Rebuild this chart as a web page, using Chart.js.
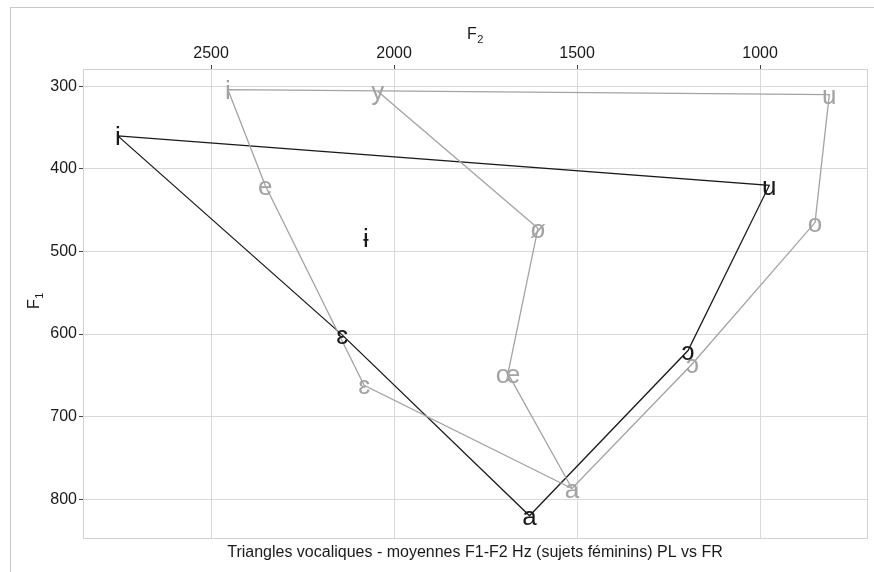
<!DOCTYPE html>
<html lang="fr">
<head>
<meta charset="utf-8">
<title>Triangles vocaliques F1-F2</title>
<script src="https://cdn.jsdelivr.net/npm/chart.js@4/dist/chart.umd.min.js"></script>
<style>
  html, body { margin: 0; padding: 0; background: #ffffff; }
  #wrap { width: 874px; height: 572px; position: relative; }
</style>
</head>
<body>
<div id="wrap"><canvas id="chart"></canvas></div>
<script>
// Mean formant values (Hz), female speakers.
// Polish (PL) vowels
const plVowels = ['i', 'u', 'ɔ', 'a', 'ɛ', 'ɨ'];
const plF2 = [2755, 975, 1197, 1630, 2142, 2077];
const plF1 = [360, 420, 620, 820, 601, 484];
// Polish outline, in drawing order
const plOutline = ['i', 'u', 'ɔ', 'a', 'ɛ', 'i'];

// French (FR) vowels
const frVowels = ['i', 'y', 'u', 'o', 'ɔ', 'a', 'œ', 'ø', 'e', 'ɛ'];
const frF2 = [2454, 2045, 811, 850, 1185, 1514, 1689, 1607, 2352, 2082];
const frF1 = [304, 306, 310, 465, 636, 787, 648, 472, 420, 662];
// French outline and the rounded front series
const frOutline = ['i', 'e', 'ɛ', 'a', 'ɔ', 'o', 'u', 'i'];
const frRounded = ['y', 'ø', 'œ', 'a'];

// Axis ticks
const f2Ticks = [2500, 2000, 1500, 1000];
const f1Ticks = [300, 400, 500, 600, 700, 800];

const FONT = '"Liberation Sans", Arial, Helvetica, sans-serif';
const DARK = '#1a1a1a';
const GREY = '#a3a3a3';

function pointsFor(vowels, f2, f1, order) {
  return order.map(v => {
    const k = vowels.indexOf(v);
    return { x: f2[k], y: f1[k] };
  });
}
function labelPoints(vowels, f2, f1) {
  return vowels.map((v, k) => ({ x: f2[k], y: f1[k], label: v }));
}

// Frame around the whole figure, panel border, titles and vowel symbols
const decorations = {
  id: 'decorations',
  beforeDraw(chart) {
    const ctx = chart.ctx;
    ctx.save();
    ctx.fillStyle = '#ffffff';
    ctx.fillRect(0, 0, chart.width, chart.height);
    ctx.strokeStyle = '#c9c9c9';
    ctx.lineWidth = 1;
    ctx.strokeRect(10.5, 7.5, chart.width + 20, chart.height + 20);
    ctx.restore();
  },
  afterDraw(chart) {
    const ctx = chart.ctx;
    const a = chart.chartArea;
    ctx.save();
    // panel border
    ctx.strokeStyle = '#d3d3d3';
    ctx.lineWidth = 1;
    ctx.strokeRect(Math.round(a.left) + 0.5, Math.round(a.top) + 0.5,
                   Math.round(a.right - a.left), Math.round(a.bottom - a.top));

    // vowel symbols
    ctx.textAlign = 'center';
    ctx.textBaseline = 'middle';
    ctx.font = '26px ' + FONT;
    chart.data.datasets.forEach((ds, i) => {
      if (!ds.symbols) return;
      const meta = chart.getDatasetMeta(i);
      ctx.fillStyle = ds.symbolColor;
      meta.data.forEach((el, k) => {
        ctx.fillText(ds.data[k].label, el.x, el.y + 2);
      });
    });

    // axis titles with subscripts
    ctx.fillStyle = DARK;
    ctx.textBaseline = 'alphabetic';
    ctx.textAlign = 'left';
    const cx = (a.left + a.right) / 2;
    ctx.font = '16px ' + FONT;
    const wF = ctx.measureText('F').width;
    ctx.fillText('F', cx - 8, 39);
    ctx.font = '11px ' + FONT;
    ctx.fillText('2', cx - 8 + wF + 0.5, 43);

    ctx.save();
    ctx.translate(39, 302);
    ctx.rotate(-Math.PI / 2);
    ctx.font = '16px ' + FONT;
    ctx.fillText('F', -7, 0);
    ctx.font = '11px ' + FONT;
    ctx.fillText('1', -7 + wF + 0.5, 4);
    ctx.restore();

    // caption
    ctx.font = '16px ' + FONT;
    ctx.textAlign = 'center';
    ctx.textBaseline = 'middle';
    ctx.fillText('Triangles vocaliques - moyennes F1-F2 Hz (sujets féminins) PL vs FR', cx, 553);
    ctx.restore();
  }
};

const lineStyle = (color) => ({
  showLine: true,
  borderColor: color,
  borderWidth: 1.3,
  pointRadius: 0,
  pointHoverRadius: 0,
  fill: false,
  tension: 0
});

const plainNumber = v => String(v);

new Chart(document.getElementById('chart'), {
  type: 'scatter',
  data: {
    datasets: [
      Object.assign({ label: 'FR', data: pointsFor(frVowels, frF2, frF1, frOutline) }, lineStyle(GREY)),
      Object.assign({ label: 'FR arrondies', data: pointsFor(frVowels, frF2, frF1, frRounded) }, lineStyle(GREY)),
      Object.assign({ label: 'PL', data: pointsFor(plVowels, plF2, plF1, plOutline) }, lineStyle(DARK)),
      { label: 'FR symboles', data: labelPoints(frVowels, frF2, frF1), showLine: false,
        pointRadius: 0, symbols: true, symbolColor: GREY },
      { label: 'PL symboles', data: labelPoints(plVowels, plF2, plF1), showLine: false,
        pointRadius: 0, symbols: true, symbolColor: DARK }
    ]
  },
  options: {
    responsive: true,
    maintainAspectRatio: false,
    devicePixelRatio: 1,
    animation: false,
    events: [],
    layout: { padding: { left: 0, top: 0, right: 7, bottom: 34 } },
    plugins: { legend: { display: false }, tooltip: { enabled: false }, title: { display: false } },
    scales: {
      x: {
        type: 'linear',
        position: 'top',
        reverse: true,
        min: 708,
        max: 2850,
        afterBuildTicks: s => { s.ticks = f2Ticks.map(v => ({ value: v })); },
        afterFit: s => { s.height = 69; },
        ticks: { font: { size: 16, family: FONT }, color: DARK, padding: 2, maxRotation: 0, callback: plainNumber },
        grid: { color: '#d9d9d9', lineWidth: 1, tickLength: 4, tickColor: '#444444', drawTicks: true },
        border: { display: false }
      },
      y: {
        type: 'linear',
        position: 'left',
        reverse: true,
        min: 279,
        max: 847,
        afterBuildTicks: s => { s.ticks = f1Ticks.map(v => ({ value: v })); },
        afterFit: s => { s.width = 83; },
        ticks: { font: { size: 16, family: FONT }, color: DARK, padding: 2, callback: plainNumber },
        grid: { color: '#d9d9d9', lineWidth: 1, tickLength: 4, tickColor: '#444444', drawTicks: true },
        border: { display: false }
      }
    }
  },
  plugins: [decorations]
});
</script>
</body>
</html>
